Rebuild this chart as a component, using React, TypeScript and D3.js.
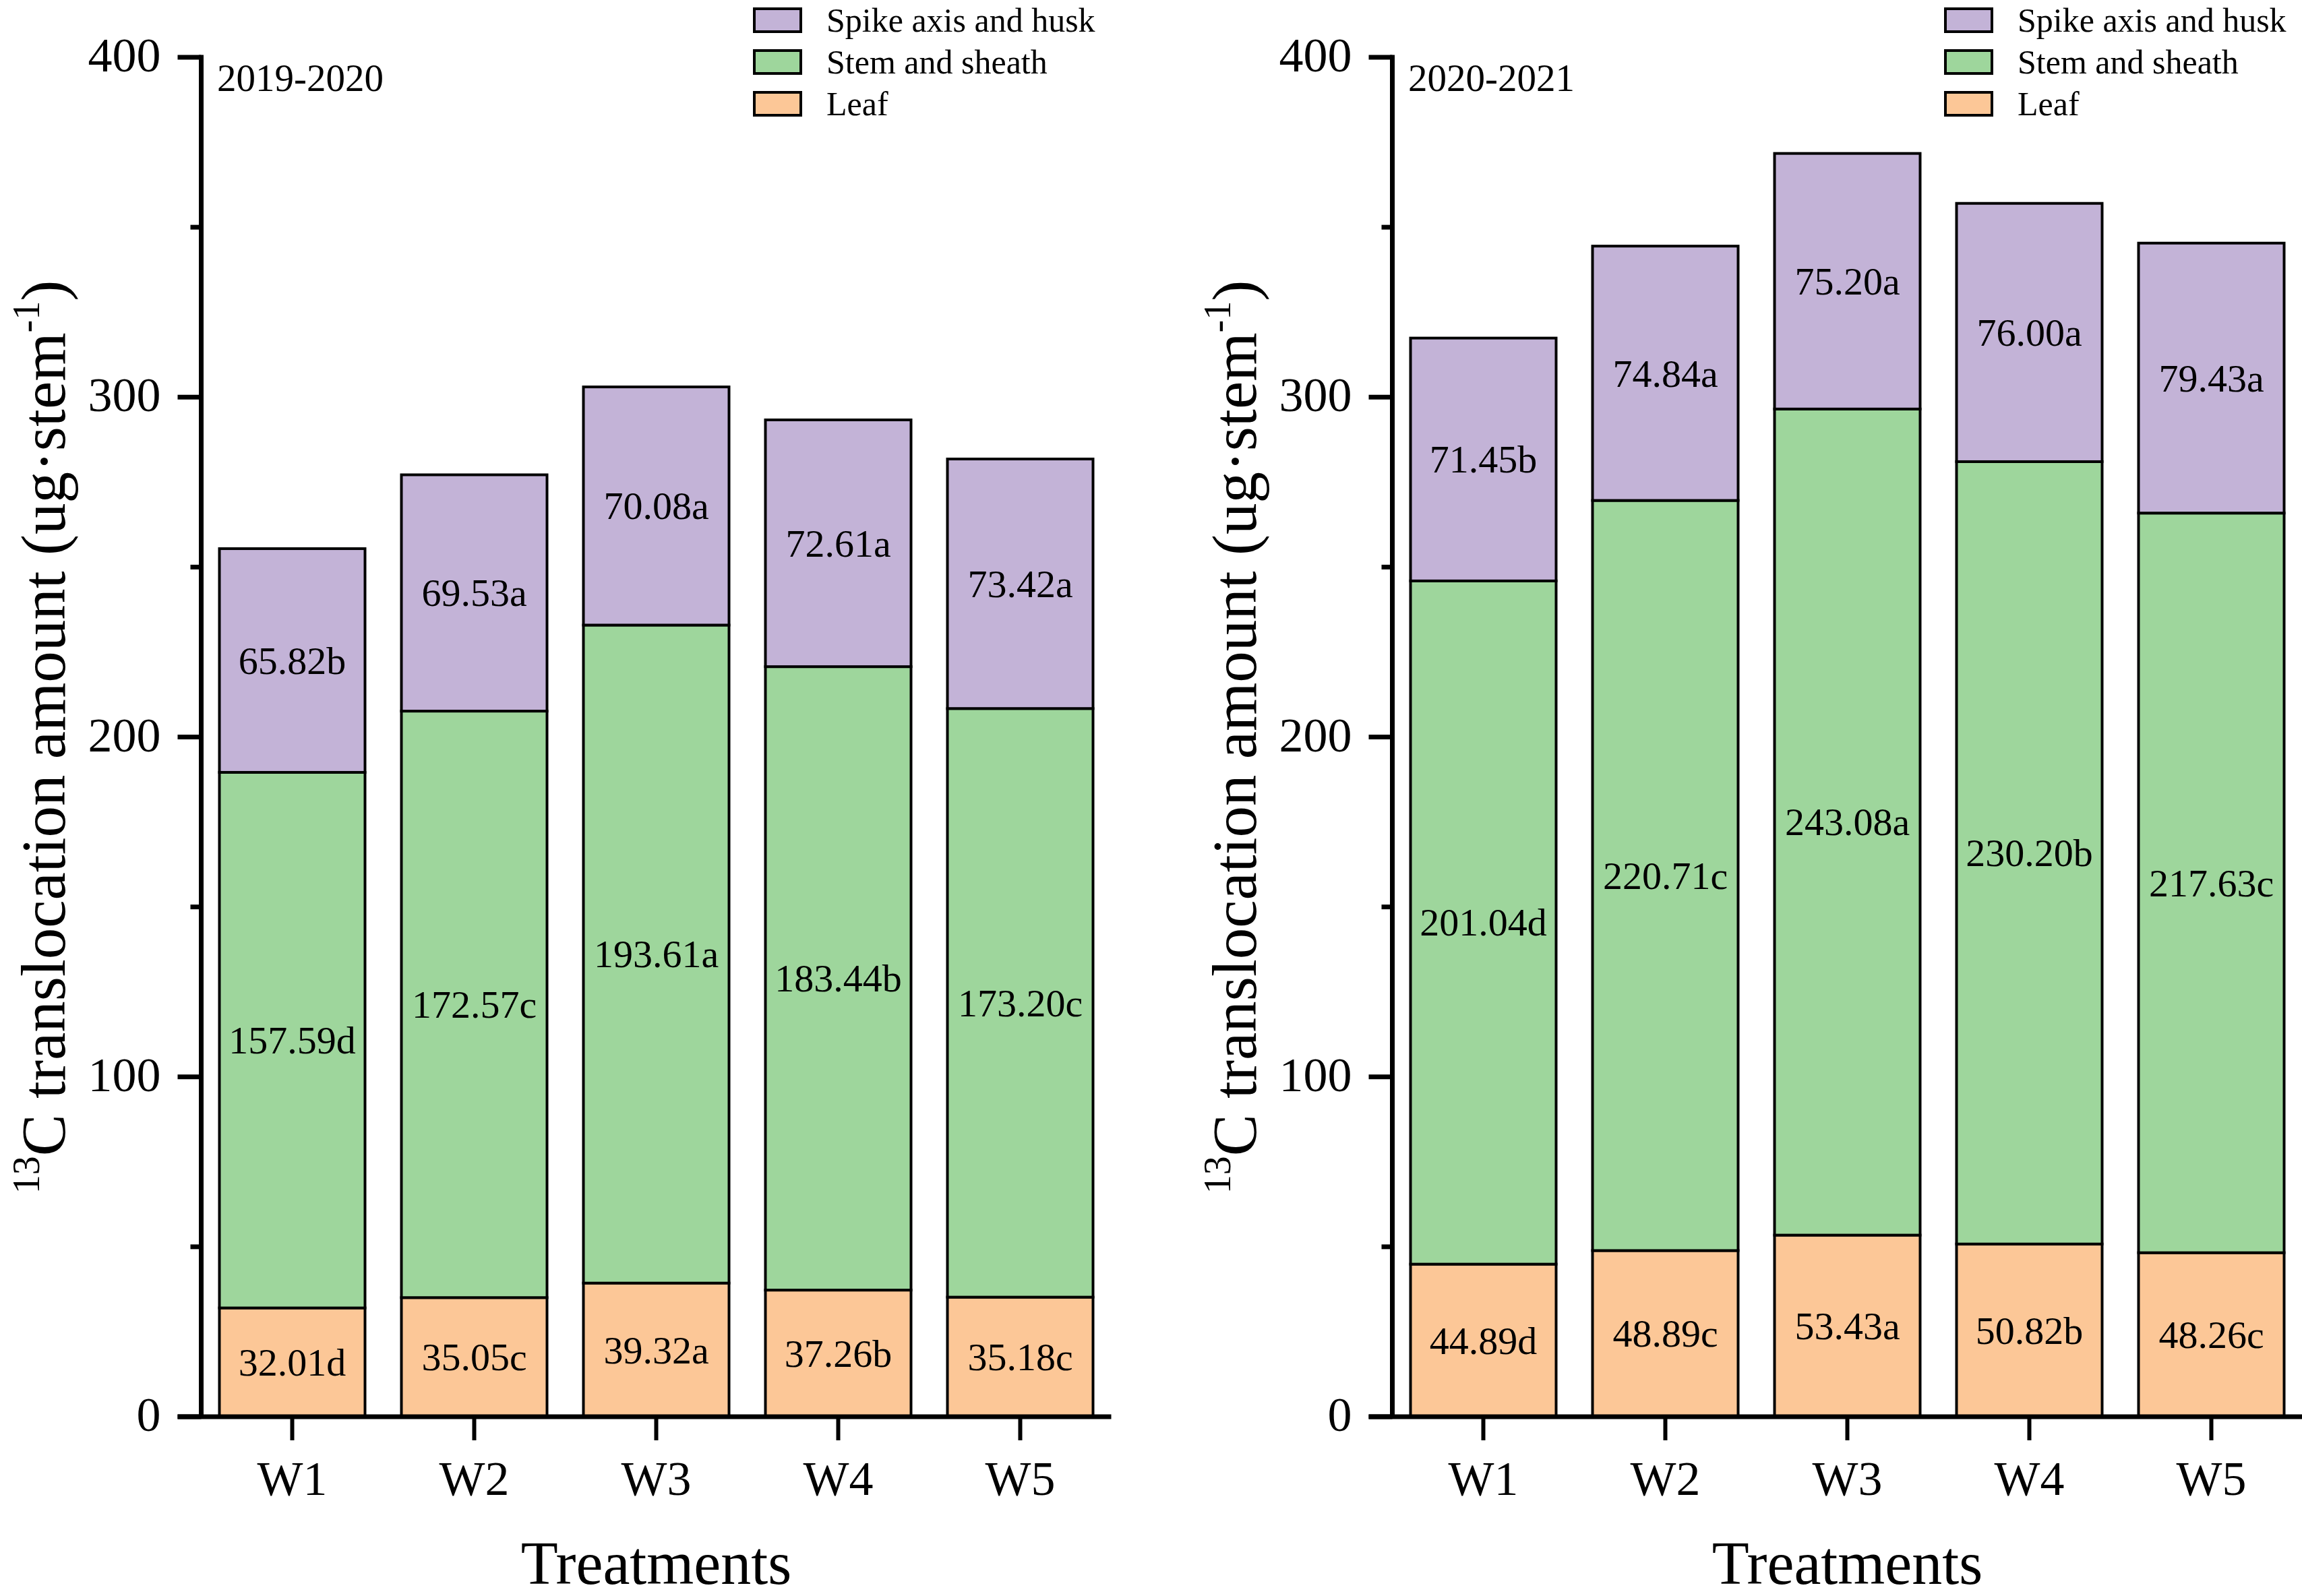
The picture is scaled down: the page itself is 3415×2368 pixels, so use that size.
import * as d3 from "d3";
import React from "react";

// treatments on the x axis
const treatments = ["W1", "W2", "W3", "W4", "W5"];

// 2019-2020 season
const leaf2019 = [32.01, 35.05, 39.32, 37.26, 35.18];
const leafSig2019 = ["d", "c", "a", "b", "c"];
const stem2019 = [157.59, 172.57, 193.61, 183.44, 173.2];
const stemSig2019 = ["d", "c", "a", "b", "c"];
const spike2019 = [65.82, 69.53, 70.08, 72.61, 73.42];
const spikeSig2019 = ["b", "a", "a", "a", "a"];

// 2020-2021 season
const leaf2020 = [44.89, 48.89, 53.43, 50.82, 48.26];
const leafSig2020 = ["d", "c", "a", "b", "c"];
const stem2020 = [201.04, 220.71, 243.08, 230.2, 217.63];
const stemSig2020 = ["d", "c", "a", "b", "c"];
const spike2020 = [71.45, 74.84, 75.2, 76.0, 79.43];
const spikeSig2020 = ["b", "a", "a", "a", "a"];

const yTicks = [0, 100, 200, 300, 400];
const yMinorTicks = [50, 150, 250, 350];

const seriesNames = ["Leaf", "Stem and sheath", "Spike axis and husk"];
const seriesColors = ["#FCC797", "#9ED69C", "#C3B3D7"];

const W = 3415;
const H = 2368;
const FONT = "'Liberation Serif', 'Times New Roman', serif";

interface PanelProps {
    offsetX: number;
    season: string;
    values: number[][];
    letters: string[][];
}

function Panel({ offsetX, season, values, letters }: PanelProps) {
    const axisX = 298.5 + offsetX;
    const y = d3.scaleLinear().domain([0, 400]).range([2102, 85]);
    const x = d3.scaleBand<string>()
        .domain(treatments)
        .range([axisX, axisX + 1350])
        .paddingInner(0.2)
        .paddingOuter(0.1);

    const rows = treatments.map((t, i) => {
        const r: any = { t };
        seriesNames.forEach((s, k) => { r[s] = values[k][i]; });
        return r;
    });
    const stacked = d3.stack<any>().keys(seriesNames)(rows);

    const majorLen = 35;
    const minorLen = 16;
    const legendX = 1119 + offsetX;

    return (
        <g>
            {/* bars */}
            {stacked.map((layer, k) => (
                <g key={layer.key}>
                    {layer.map((d, i) => {
                        const t = treatments[i];
                        const top = y(d[1]);
                        const bot = y(d[0]);
                        const cx = (x(t) as number) + x.bandwidth() / 2;
                        return (
                            <g key={t}>
                                <rect x={x(t)} y={top} width={x.bandwidth()} height={bot - top}
                                    fill={seriesColors[k]} stroke="#000" strokeWidth={4} />
                                <text x={cx} y={(top + bot) / 2} dy="0.34em" textAnchor="middle"
                                    fontSize={58} fontFamily={FONT}>
                                    {values[k][i].toFixed(2) + letters[k][i]}
                                </text>
                            </g>
                        );
                    })}
                </g>
            ))}

            {/* y axis */}
            <line x1={axisX} x2={axisX} y1={y(400) - 3.5} y2={y(0)} stroke="#000" strokeWidth={7} />
            {yTicks.map(v => (
                <g key={v}>
                    <line x1={axisX - majorLen} x2={axisX} y1={y(v)} y2={y(v)} stroke="#000" strokeWidth={7} />
                    <text x={axisX - majorLen - 25} y={y(v) + 21} textAnchor="end" fontSize={72} fontFamily={FONT}>{v}</text>
                </g>
            ))}
            {yMinorTicks.map(v => (
                <line key={v} x1={axisX - minorLen} x2={axisX} y1={y(v)} y2={y(v)} stroke="#000" strokeWidth={7} />
            ))}

            {/* x axis */}
            <line x1={axisX - majorLen} x2={axisX + 1350} y1={y(0)} y2={y(0)} stroke="#000" strokeWidth={7} />
            {treatments.map(t => {
                const cx = (x(t) as number) + x.bandwidth() / 2;
                return (
                    <g key={t}>
                        <line x1={cx} x2={cx} y1={y(0)} y2={y(0) + 35} stroke="#000" strokeWidth={6} />
                        <text x={cx} y={2218} textAnchor="middle" fontSize={72} fontFamily={FONT}>{t}</text>
                    </g>
                );
            })}

            {/* titles */}
            <text x={axisX + 675} y={2350} textAnchor="middle" fontSize={90} fontFamily={FONT}>Treatments</text>
            <text transform={`translate(${96 + offsetX},${(y(0) + y(400)) / 2}) rotate(-90)`}
                textAnchor="middle" fontSize={93} fontFamily={FONT}>
                <tspan fontSize={56} dy={-38}>13</tspan>
                <tspan dy={38}>C translocation amount (ug·stem</tspan>
                <tspan fontSize={56} dy={-38}>-1</tspan>
                <tspan dy={38}>)</tspan>
            </text>
            <text x={322 + offsetX} y={135} fontSize={57} fontFamily={FONT}>{season}</text>

            {/* legend */}
            {[2, 1, 0].map((k, j) => (
                <g key={k}>
                    <rect x={legendX} y={13 + j * 62} width={69} height={34}
                        fill={seriesColors[k]} stroke="#000" strokeWidth={4} />
                    <text x={legendX + 107} y={47 + j * 62} fontSize={50} fontFamily={FONT}>{seriesNames[k]}</text>
                </g>
            ))}
        </g>
    );
}

export default function App() {
    return (
        <svg width={W} height={H} viewBox={`0 0 ${W} ${H}`}
            style={{ position: "absolute", left: 0, top: 0, background: "#fff" }}>
            <rect width={W} height={H} fill="#fff" />
            <Panel offsetX={0} season="2019-2020"
                values={[leaf2019, stem2019, spike2019]}
                letters={[leafSig2019, stemSig2019, spikeSig2019]} />
            <Panel offsetX={1767} season="2020-2021"
                values={[leaf2020, stem2020, spike2020]}
                letters={[leafSig2020, stemSig2020, spikeSig2020]} />
        </svg>
    );
}
